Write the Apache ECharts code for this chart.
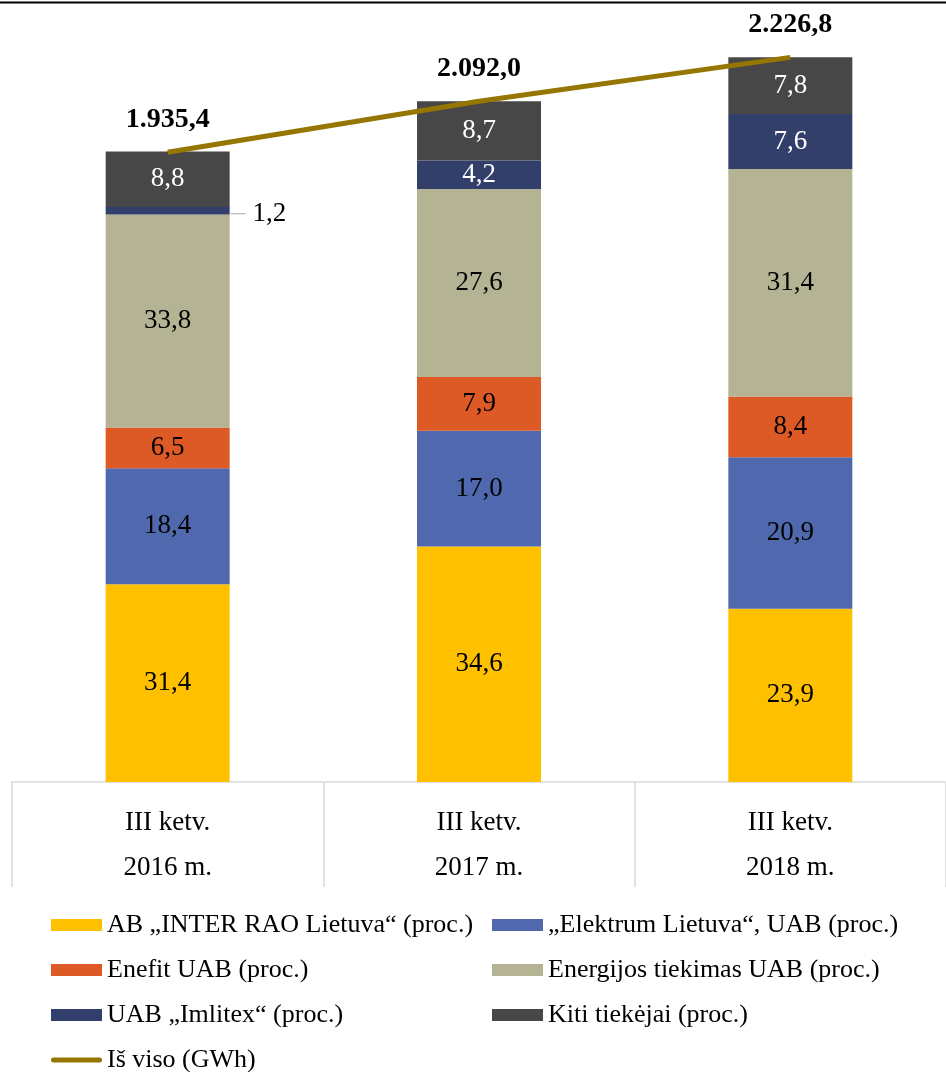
<!DOCTYPE html>
<html>
<head>
<meta charset="utf-8">
<script src="https://cdn.jsdelivr.net/npm/echarts@6/dist/echarts.min.js"></script>
<style>
html,body{margin:0;padding:0;background:#fff;}
#chart{width:946px;height:1072px;}
</style>
</head>
<body>
<div id="chart"></div>
<script>
const categories = ['III ketv.\n2016 m.', 'III ketv.\n2017 m.', 'III ketv.\n2018 m.'];
const totals = [1935.4, 2092.0, 2226.8];
const interRao = [31.4, 34.6, 23.9];
const elektrum = [18.4, 17.0, 20.9];
const enefit = [6.5, 7.9, 8.4];
const energijos = [33.8, 27.6, 31.4];
const imlitex = [1.2, 4.2, 7.6];
const kiti = [8.8, 8.7, 7.8];

const seriesNames = [
  'AB „INTER RAO Lietuva“ (proc.)',
  '„Elektrum Lietuva“, UAB (proc.)',
  'Enefit UAB (proc.)',
  'Energijos tiekimas UAB (proc.)',
  'UAB „Imlitex“ (proc.)',
  'Kiti tiekėjai (proc.)'
];
const totalName = 'Iš viso (GWh)';
const shares = [interRao, elektrum, enefit, energijos, imlitex, kiti];
const colors = ['#FFC000', '#5069AE', '#DD5A26', '#B4B494', '#313F6A', '#474747'];
const labelColors = ['#000', '#000', '#000', '#000', '#fff', '#fff'];
const LINE_COLOR = '#947600';
const FONT = "'Liberation Serif', 'Times New Roman', serif";

function fmtPct(v) { return v.toFixed(1).replace('.', ','); }
function fmtTotal(v) {
  const parts = v.toFixed(1).split('.');
  const intPart = parts[0].replace(/\B(?=(\d{3})+(?!\d))/g, '.');
  return intPart + ',' + parts[1];
}

const barSeries = shares.map((arr, si) => ({
  name: seriesNames[si],
  type: 'bar',
  stack: 'total',
  barWidth: 124,
  itemStyle: { color: colors[si] },
  label: {
    show: true,
    position: 'inside',
    color: labelColors[si],
    fontFamily: FONT,
    fontSize: 27,
    formatter: p => fmtPct(arr[p.dataIndex])
  },
  data: arr.map((pct, i) => {
    const item = { value: pct * totals[i] / 100 };
    if (si === 4 && i === 0) {
      item.label = {
        position: 'right',
        distance: 1,
        offset: [0, 3],
        formatter: '{ln|}{v| ' + fmtPct(pct) + '}',
        rich: {
          ln: { width: 15, height: 1, backgroundColor: '#a6a6a6' },
          v: { fontFamily: FONT, fontSize: 27, color: '#000' }
        }
      };
    }
    return item;
  })
}));

const lineSeries = {
  name: totalName,
  type: 'line',
  symbol: 'none',
  z: 10,
  lineStyle: { color: LINE_COLOR, width: 5 },
  itemStyle: { color: LINE_COLOR },
  data: totals
};

const totalLabelSeries = {
  name: 'totalLabels',
  type: 'scatter',
  symbolSize: 1,
  z: 11,
  silent: true,
  itemStyle: { color: 'rgba(0,0,0,0)' },
  label: {
    show: true,
    position: 'top',
    distance: 18,
    opacity: 1,
    color: '#000',
    fontFamily: FONT,
    fontWeight: 'bold',
    fontSize: 28,
    formatter: p => fmtTotal(totals[p.dataIndex])
  },
  data: totals
};

const legendText = { fontFamily: FONT, fontSize: 26, color: '#000', lineHeight: 26 };
const lineIcon = 'path://M2.5,3.5L48.5,3.5A2.5,2.5,0,0,1,48.5,8.5L2.5,8.5A2.5,2.5,0,0,1,2.5,3.5Z' +
  'M0,0L0.01,0L0,0.01Z M51,12L50.99,12L51,11.99Z';

const option = {
  animation: false,
  backgroundColor: '#fff',
  grid: { left: 12, right: -6, top: 1, bottom: 290 },
  xAxis: {
    type: 'category',
    data: categories,
    axisLine: { show: true, lineStyle: { color: '#d9d9d9', width: 1.5 } },
    axisTick: { show: true, alignWithLabel: false, length: 105, lineStyle: { color: '#d9d9d9', width: 1.5 } },
    axisLabel: { fontFamily: FONT, fontSize: 27, color: '#000', lineHeight: 45, margin: 18 }
  },
  yAxis: {
    type: 'value',
    min: 0,
    max: 2400,
    show: false,
    splitLine: { show: false }
  },
  legend: [
    {
      orient: 'vertical',
      left: 46,
      top: 907,
      height: 170,
      itemWidth: 51,
      itemHeight: 12,
      itemGap: 19,
      textStyle: legendText,
      data: [
        { name: seriesNames[0], icon: 'rect' },
        { name: seriesNames[2], icon: 'rect' },
        { name: seriesNames[4], icon: 'rect' },
        { name: totalName, icon: lineIcon, itemStyle: { color: LINE_COLOR } }
      ]
    },
    {
      orient: 'vertical',
      left: 487,
      top: 907,
      height: 170,
      itemWidth: 51,
      itemHeight: 12,
      itemGap: 19,
      textStyle: legendText,
      data: [
        { name: seriesNames[1], icon: 'rect' },
        { name: seriesNames[3], icon: 'rect' },
        { name: seriesNames[5], icon: 'rect' }
      ]
    }
  ],
  graphic: [
    { type: 'line', shape: { x1: 0, y1: 2.5, x2: 946, y2: 2.5 }, style: { stroke: '#000', lineWidth: 2 } }
  ],
  series: barSeries.concat([lineSeries, totalLabelSeries])
};

const chart = echarts.init(document.getElementById('chart'), null, { renderer: 'canvas' });
chart.setOption(option);
</script>
</body>
</html>
